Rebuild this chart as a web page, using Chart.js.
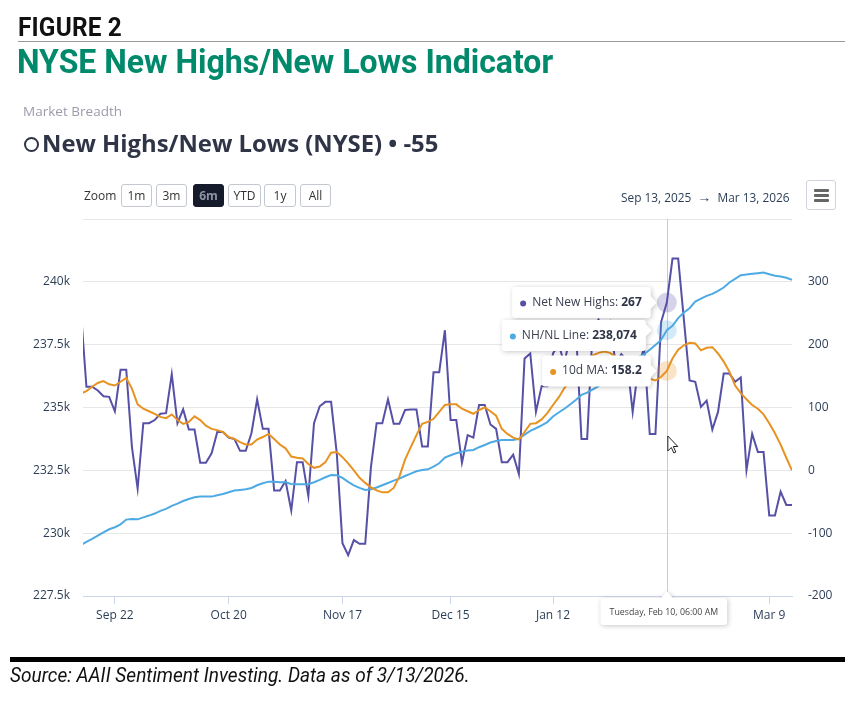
<!DOCTYPE html>
<html>
<head>
<meta charset="utf-8">
<script src="https://cdn.jsdelivr.net/npm/chart.js@4.4.1/dist/chart.umd.min.js"></script>
<style>
  html,body{margin:0;padding:0;background:#fff;}
  body{width:858px;height:705px;position:relative;overflow:hidden;font-family:Roboto,"Open Sans",sans-serif;}
  #c{position:absolute;left:0;top:0;}
  .abs{position:absolute;white-space:nowrap;transform-origin:0 0;}
  #fig{left:18px;top:12px;font:700 26px Roboto;color:#111;letter-spacing:0.2px;}
  #sep{left:18px;top:41px;width:827px;height:0;border-top:1.5px solid #9a9a9a;}
  #title{left:17px;top:41px;font:700 34px Roboto;color:#00896b;}
  #mb{left:23px;top:102px;font:400 13px "Open Sans";color:#9b9bab;}
  #circ{left:24px;top:137px;width:11px;height:11px;border:2px solid #2f3547;border-radius:50%;}
  #t2{left:42px;top:127px;font:700 23px "Open Sans";color:#2f3547;}
  #zoomlbl{left:84px;top:187px;font:400 12px "Open Sans";color:#333;}
  .btn{position:absolute;top:184px;height:21px;border:1px solid #c3c8d1;border-radius:3px;background:#fff;font:400 12px "Open Sans";color:#333;text-align:center;line-height:21px;box-sizing:content-box;}
  .btn.sel{background:#151b2b;border-color:#151b2b;color:#8c93a3;font-weight:700;}
  #range{left:621px;top:187px;font:400 12px "Open Sans";color:#2c3e57;}
  #menu{left:806px;top:180px;width:28px;height:28px;border:1px solid #cfd3da;border-radius:3px;}
  #menu i{position:absolute;left:7px;width:15px;height:3px;background:#666;border-radius:1px;}
  #bar{left:10px;top:657px;width:835px;height:5px;background:#000;}
  #src{left:10px;top:663px;font:italic 400 21px Roboto;color:#111;}
</style>
</head>
<body>
<canvas id="c" width="858" height="705"></canvas>
<div class="abs" id="fig">FIGURE 2</div>
<div class="abs" id="sep"></div>
<div class="abs" id="title">NYSE New Highs/New Lows Indicator</div>
<div class="abs" id="mb">Market Breadth</div>
<div class="abs" id="circ"></div>
<div class="abs" id="t2">New Highs/New Lows (NYSE) • -55</div>
<div class="abs" id="zoomlbl">Zoom</div>
<div class="btn" style="left:121px;width:29px;">1m</div>
<div class="btn" style="left:156px;width:29px;">3m</div>
<div class="btn sel" style="left:193px;width:29px;">6m</div>
<div class="btn" style="left:228px;width:31px;">YTD</div>
<div class="btn" style="left:264px;width:30px;">1y</div>
<div class="btn" style="left:300px;width:29px;">All</div>
<div class="abs" id="range">Sep 13, 2025 &nbsp;<span style="font-size:14px">→</span>&nbsp; Mar 13, 2026</div>
<div class="abs" id="menu"><i style="top:8px"></i><i style="top:13px"></i><i style="top:18px"></i></div>
<div class="abs" id="bar"></div>
<div class="abs" id="src">Source: AAII Sentiment Investing. Data as of 3/13/2026.</div>

<script>
// ---------- DATA ----------
const dates = [
 'Sep 12','Sep 15','Sep 16','Sep 17','Sep 18','Sep 19','Sep 22','Sep 23','Sep 24','Sep 25','Sep 26','Sep 29','Sep 30',
 'Oct 1','Oct 2','Oct 3','Oct 6','Oct 7','Oct 8','Oct 9','Oct 10','Oct 13','Oct 14','Oct 15','Oct 16','Oct 17',
 'Oct 20','Oct 21','Oct 22','Oct 23','Oct 24','Oct 27','Oct 28','Oct 29','Oct 30','Oct 31',
 'Nov 3','Nov 4','Nov 5','Nov 6','Nov 7','Nov 10','Nov 11','Nov 12','Nov 13','Nov 14','Nov 17','Nov 18','Nov 19','Nov 20','Nov 21',
 'Nov 24','Nov 25','Nov 26','Nov 28',
 'Dec 1','Dec 2','Dec 3','Dec 4','Dec 5','Dec 8','Dec 9','Dec 10','Dec 11','Dec 12','Dec 15','Dec 16','Dec 17','Dec 18','Dec 19',
 'Dec 22','Dec 23','Dec 24','Dec 26','Dec 29','Dec 30','Dec 31',
 'Jan 2','Jan 5','Jan 6','Jan 7','Jan 8','Jan 9','Jan 12','Jan 13','Jan 14','Jan 15','Jan 16','Jan 20','Jan 21','Jan 22','Jan 23',
 'Jan 26','Jan 27','Jan 28','Jan 29','Jan 30',
 'Feb 2','Feb 3','Feb 4','Feb 5','Feb 6','Feb 9','Feb 10','Feb 11','Feb 12','Feb 13','Feb 17','Feb 18','Feb 19','Feb 20',
 'Feb 23','Feb 24','Feb 25','Feb 26','Feb 27',
 'Mar 2','Mar 3','Mar 4','Mar 5','Mar 6','Mar 9','Mar 10','Mar 11','Mar 12','Mar 13'
];

const netNewHighs = [
 257,
 133,133,127,118,117,94,160,160,37,-29,
 75,75,80,90,91,153,75,97,65,65,
 12,12,27,61,61,52,50,31,31,59,
 113,66,66,-32,-32,-17,-64,13,13,-41,
 75,102,109,109,27,-116,-135,-111,-117,-117,
 5,75,75,113,74,74,96,97,97,38,
 38,156,156,223,80,80,12,56,52,104,
 104,73,66,13,13,25,-6,178,186,93,
 134,134,186,200,170,215,230,50,50,230,
 240,215,235,170,185,175,93,165,195,58,
 58,236,267,337,337,240,143,141,101,111,
 65,93,154,154,141,148,0,58,29,29,
 -72,-72,-34,-55,-55
];

const nhnlLine = [
 229520,
 229650,229770,229900,230035,230155,230235,230350,230540,230565,230550,
 230630,230700,230780,230885,230965,231085,231175,231280,231360,231430,
 231455,231455,231455,231510,231560,231630,231695,231720,231745,231800,
 231905,231985,232050,232050,232025,232025,231960,231945,231945,231945,
 232025,232120,232225,232315,232305,232200,232040,231905,231800,231720,
 231745,231815,231905,231995,232090,232170,232275,232370,232465,232515,
 232540,232650,232780,233010,233100,233180,233245,233285,233310,233420,
 233510,233605,233670,233710,233710,233710,233750,233920,234070,234175,
 234290,234420,234640,234800,234950,235120,235300,235500,235590,235720,
 235850,236050,236300,236460,236630,236735,236870,237000,237120,237295,
 237490,237690,238074,238250,238555,238780,238950,239215,239335,239440,
 239520,239640,239775,239975,240120,240265,240290,240320,240345,240370,
 240305,240240,240210,240160,240080
];

const ma10 = [
 122,
 126,133,139,142,137,135,141,147,130,105,
 98,94,90,85,83,89,80,74,77,86,
 80,71,66,64,61,53,50,45,41,41,
 49,53,58,50,41,35,22,20,19,10,
 4,6,13,28,29,21,11,0,-12,-20,
 -27,-32,-35,-35,-28,-10,17,37,56,74,
 77,82,93,104,105,105,98,94,90,96,
 100,94,87,66,58,52,49,61,74,75,
 81,91,104,116,131,142,154,165,175,183,
 187,189,187,181,173,165,159,154,150,146,
 143,149,158.2,178,192,199,203,202,191,195,
 196,186,173,157,135,123,113,104,98,89,
 75,59,41,20,0
];

const xTickLabels = ['Sep 22','Oct 20','Nov 17','Dec 15','Jan 12','Feb 9','Mar 9'];
const leftTicks = [227500,230000,232500,235000,237500,240000,242500];
const rightTicks = [-200,-100,0,100,200,300,400];
const hoverDate = 'Feb 10';
const hoverLabel = 'Tuesday, Feb 10, 06:00 AM';
const seriesNames = ['Net New Highs','NH/NL Line','10d MA'];

// ---------- STYLE ----------
const PURPLE = 'rgb(86,80,166)';
const BLUE = 'rgb(78,170,228)';
const ORANGE = 'rgb(232,146,34)';
const AXIS_TXT = '#2c3e57';
const FONT = '"Open Sans", sans-serif';

const toXY = arr => arr.map((v,k)=>({x:k,y:v}));

const overlay = {
  id:'overlay',
  beforeDatasetsDraw(chart){
    const {ctx, chartArea:a, scales:{x}} = chart;
    const px = Math.round(x.getPixelForValue(dates.indexOf(hoverDate)))+0.5;
    ctx.save();
    ctx.strokeStyle = '#c5ccd8'; ctx.lineWidth = 1;
    ctx.beginPath(); ctx.moveTo(px,a.top); ctx.lineTo(px,a.bottom); ctx.stroke();
    ctx.restore();
  },
  afterDraw(chart){
    const {ctx, chartArea:a, scales:{x,yL,yR}} = chart;
    const idx = dates.indexOf(hoverDate);
    const px = x.getPixelForValue(idx);
    const pts = [
      {name:seriesNames[0], color:PURPLE, halo:'rgba(86,80,166,0.25)', y:yR.getPixelForValue(netNewHighs[idx]), val:String(netNewHighs[idx])},
      {name:seriesNames[1], color:BLUE, halo:'rgba(78,170,228,0.25)', y:yL.getPixelForValue(nhnlLine[idx]), val:nhnlLine[idx].toLocaleString('en-US')},
      {name:seriesNames[2], color:ORANGE, halo:'rgba(232,146,34,0.25)', y:yR.getPixelForValue(ma10[idx]), val:ma10[idx].toFixed(1)}
    ];
    ctx.save();
    pts.forEach(p=>{ ctx.fillStyle=p.halo; ctx.beginPath(); ctx.arc(px,p.y,10,0,Math.PI*2); ctx.fill(); });
    let prevBottom = -1e9;
    const H = 31, gap = 16;
    const rightShift = [0,5,0];
    pts.forEach((p,i)=>{
      ctx.font = '400 12px '+FONT;
      const lbl = p.name+': ';
      const wl = ctx.measureText(lbl).width;
      ctx.font = '700 12px '+FONT;
      const wv = ctx.measureText(p.val).width;
      const w = 20 + wl + wv + 9;
      const right = px - gap - rightShift[i];
      const left = right - w;
      let top = p.y - H/2;
      if (top < prevBottom + 2) top = prevBottom + 2;
      const bottom = top + H;
      prevBottom = bottom;
      const cy = Math.min(Math.max(p.y, top+8), bottom-8);
      ctx.save();
      ctx.shadowColor='rgba(0,0,0,0.22)'; ctx.shadowBlur=5; ctx.shadowOffsetX=1; ctx.shadowOffsetY=1;
      ctx.fillStyle='#fff';
      ctx.beginPath();
      const r=3;
      ctx.moveTo(left+r,top); ctx.lineTo(right-r,top); ctx.quadraticCurveTo(right,top,right,top+r);
      ctx.lineTo(right,cy-6); ctx.lineTo(right+6,cy); ctx.lineTo(right,cy+6);
      ctx.lineTo(right,bottom-r); ctx.quadraticCurveTo(right,bottom,right-r,bottom);
      ctx.lineTo(left+r,bottom); ctx.quadraticCurveTo(left,bottom,left,bottom-r);
      ctx.lineTo(left,top+r); ctx.quadraticCurveTo(left,top,left+r,top);
      ctx.closePath(); ctx.fill();
      ctx.restore();
      const ty = top + H/2;
      ctx.fillStyle=p.color; ctx.beginPath(); ctx.arc(left+11, ty+1, 3, 0, Math.PI*2); ctx.fill();
      ctx.textBaseline='middle'; ctx.textAlign='left';
      ctx.fillStyle='#3a3f4f'; ctx.font='400 12px '+FONT; ctx.fillText(lbl, left+20, ty);
      ctx.fillStyle='#2f3547'; ctx.font='700 12px '+FONT; ctx.fillText(p.val, left+20+wl, ty);
    });
    ctx.font='400 8.8px '+FONT;
    const tw = ctx.measureText(hoverLabel).width;
    const bw = tw + 18, bh = 27;
    const bl = px - bw/2 - 3, bt = a.bottom + 2;
    ctx.save();
    ctx.shadowColor='rgba(0,0,0,0.22)'; ctx.shadowBlur=5; ctx.shadowOffsetX=1; ctx.shadowOffsetY=1;
    ctx.fillStyle='#fff';
    ctx.beginPath();
    ctx.moveTo(bl+3,bt); ctx.lineTo(px-6,bt); ctx.lineTo(px,bt-7); ctx.lineTo(px+6,bt); ctx.lineTo(bl+bw-3,bt);
    ctx.quadraticCurveTo(bl+bw,bt,bl+bw,bt+3); ctx.lineTo(bl+bw,bt+bh-3); ctx.quadraticCurveTo(bl+bw,bt+bh,bl+bw-3,bt+bh);
    ctx.lineTo(bl+3,bt+bh); ctx.quadraticCurveTo(bl,bt+bh,bl,bt+bh-3); ctx.lineTo(bl,bt+3); ctx.quadraticCurveTo(bl,bt,bl+3,bt);
    ctx.closePath(); ctx.fill();
    ctx.restore();
    ctx.fillStyle='#444'; ctx.textAlign='center'; ctx.textBaseline='middle';
    ctx.fillText(hoverLabel, bl+bw/2, bt+bh/2+1);
    const cx = px+1, cyy = a.top + 217;
    ctx.beginPath();
    ctx.moveTo(cx,cyy); ctx.lineTo(cx,cyy+15); ctx.lineTo(cx+3.5,cyy+11.5); ctx.lineTo(cx+6,cyy+17);
    ctx.lineTo(cx+8,cyy+16); ctx.lineTo(cx+5.5,cyy+10.5); ctx.lineTo(cx+10,cyy+10.5); ctx.closePath();
    ctx.fillStyle='#fff'; ctx.fill(); ctx.strokeStyle='#222'; ctx.lineWidth=1; ctx.stroke();
    ctx.restore();
  }
};

new Chart(document.getElementById('c'), {
  type:'line',
  data:{datasets:[
    {label:seriesNames[0], data:toXY(netNewHighs), yAxisID:'yR', borderColor:PURPLE, borderWidth:2, pointRadius:0, tension:0, order:3},
    {label:seriesNames[1], data:toXY(nhnlLine), yAxisID:'yL', borderColor:BLUE, borderWidth:2, pointRadius:0, tension:0, order:2},
    {label:seriesNames[2], data:toXY(ma10), yAxisID:'yR', borderColor:ORANGE, borderWidth:2, pointRadius:0, tension:0, order:1}
  ]},
  options:{
    responsive:false, animation:false, devicePixelRatio:1,
    layout:{padding:{top:219,left:0,right:0,bottom:0}},
    plugins:{legend:{display:false}, tooltip:{enabled:false}},
    scales:{
      x:{type:'linear', min:0.4, max:dates.length-1,
         afterBuildTicks:s=>{ s.ticks = xTickLabels.map(l=>({value:dates.indexOf(l)})); },
         ticks:{autoSkip:false, maxRotation:0, padding:4, color:AXIS_TXT, font:{family:FONT,size:12}, callback:v=>dates[v]},
         grid:{drawOnChartArea:false, tickLength:8, color:'#ccd6eb'},
         border:{color:'#ccd6eb', width:1},
         afterFit:s=>{ s.height = 109; }},
      yL:{position:'left', min:leftTicks[0], max:leftTicks[leftTicks.length-1],
         afterBuildTicks:s=>{ s.ticks = leftTicks.map(v=>({value:v})); },
         ticks:{padding:13, color:AXIS_TXT, font:{family:FONT,size:12},
           callback:v=> v===leftTicks[leftTicks.length-1] ? '' : (v/1000)+'k'},
         grid:{color:'#e6e6e6', drawTicks:false}, border:{display:false},
         afterFit:s=>{ s.width = 83; }},
      yR:{position:'right', min:rightTicks[0], max:rightTicks[rightTicks.length-1],
         afterBuildTicks:s=>{ s.ticks = rightTicks.map(v=>({value:v})); },
         ticks:{padding:16, color:AXIS_TXT, font:{family:FONT,size:12},
           callback:v=> v===rightTicks[rightTicks.length-1] ? '' : String(v)},
         grid:{display:false, drawTicks:false}, border:{display:false},
         afterFit:s=>{ s.width = 66; }}
    }
  },
  plugins:[overlay]
});

function fit(id, w){ const el=document.getElementById(id); const cw=el.scrollWidth; el.style.transform='scaleX('+(w/cw)+')'; }
fit('fig',104); fit('title',536); fit('mb',99); fit('t2',396); fit('src',460); fit('range',169);
</script>
</body>
</html>
